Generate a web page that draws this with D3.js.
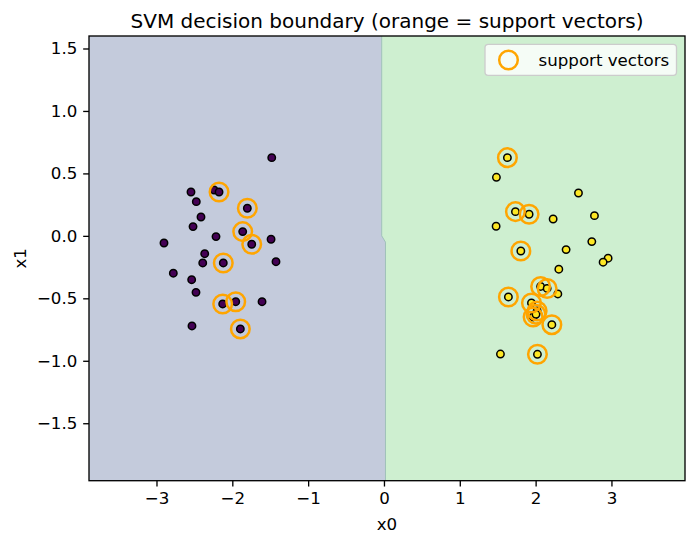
<!DOCTYPE html>
<html>
<head>
<meta charset="utf-8">
<script src="https://cdn.jsdelivr.net/npm/d3@7"></script>
<style>
  html, body { margin: 0; padding: 0; background: #fff; }
  svg { display: block; font-family: "DejaVu Sans", sans-serif; }
</style>
</head>
<body>
<div id="chart"></div>
<script>
// class 0 points (purple)
const class0X = [-1.48, -2.545, -2.241, -2.175, -2.475, -1.802, -2.413, -2.518, -1.863, -2.215,
                 -2.901, -1.489, -1.744, -2.364, -2.390, -2.119, -1.424, -2.778, -2.536, -2.479,
                 -2.127, -1.955, -1.608, -2.532, -1.894];
const class0Y = [0.626, 0.351, 0.367, 0.351, 0.274, 0.221, 0.151, 0.074, 0.034, -0.006,
                 -0.057, -0.027, -0.067, -0.143, -0.217, -0.217, -0.207, -0.299, -0.351, -0.452,
                 -0.545, -0.527, -0.527, -0.721, -0.745];
const class0SV = [0, 0, 0, 1, 0, 1, 0, 0, 1, 0,
                  0, 0, 1, 0, 0, 1, 0, 0, 0, 0,
                  1, 1, 0, 0, 1];

// class 1 points (yellow)
const class1X = [1.628, 1.483, 2.565, 1.734, 1.914, 2.231, 2.776, 1.479, 2.741, 1.805,
                 2.402, 2.956, 2.890, 2.306, 2.066, 2.152, 2.293, 1.641, 1.945, 2.020,
                 1.967, 2.005, 2.214, 1.536, 2.024];
const class1Y = [0.626, 0.469, 0.343, 0.194, 0.173, 0.135, 0.162, 0.077, -0.046, -0.121,
                 -0.110, -0.179, -0.211, -0.267, -0.405, -0.421, -0.465, -0.489, -0.537, -0.601,
                 -0.649, -0.628, -0.711, -0.946, -0.948];
const class1SV = [1, 0, 0, 1, 1, 0, 0, 0, 0, 1,
                  0, 0, 0, 0, 1, 1, 0, 1, 1, 1,
                  1, 1, 1, 0, 1];

// decision boundary polyline (x0, x1), top to bottom
const boundaryX = [-0.03, -0.03, 0.02, 0.02];
const boundaryY = [1.60, 0.0, -0.05, -1.96];

const xTicks = [-3, -2, -1, 0, 1, 2, 3];
const yTicks = [-1.5, -1.0, -0.5, 0.0, 0.5, 1.0, 1.5];
const xLim = [-3.89, 3.97];
const yLim = [-1.96, 1.60];

const W = 695, H = 546;
const margin = { left: 89, top: 36, right: 10, bottom: 65.3 };
const iw = W - margin.left - margin.right;
const ih = H - margin.top - margin.bottom;

const svg = d3.select("#chart").append("svg")
  .attr("width", W).attr("height", H);

const x = d3.scaleLinear().domain(xLim).range([0, iw]);
const y = d3.scaleLinear().domain(yLim).range([ih, 0]);

const g = svg.append("g")
  .attr("transform", "translate(" + margin.left + "," + margin.top + ")");

const fmtMinus = s => s.replace("-", "\u2212");

// regions
const bnd = boundaryX.map((v, i) => [x(v), y(boundaryY[i])]);
const leftPoly = [[x(xLim[0]), y(yLim[1])]].concat(bnd, [[x(xLim[0]), y(yLim[0])]]);
const rightPoly = [[x(xLim[1]), y(yLim[1])]].concat(bnd, [[x(xLim[1]), y(yLim[0])]]);
const line = d3.line();

g.append("path").attr("d", line(leftPoly) + "Z")
  .attr("fill", d3.interpolateViridis(0.25)).attr("fill-opacity", 0.3);
g.append("path").attr("d", line(rightPoly) + "Z")
  .attr("fill", d3.interpolateViridis(0.75)).attr("fill-opacity", 0.3);
g.append("path").attr("d", line(bnd))
  .attr("fill", "none").attr("stroke", "rgb(160,192,186)").attr("stroke-width", 1);

// points
const pts0 = class0X.map((v, i) => ({ x: v, y: class0Y[i], sv: class0SV[i], c: 0 }));
const pts1 = class1X.map((v, i) => ({ x: v, y: class1Y[i], sv: class1SV[i], c: 1 }));
const pts = pts0.concat(pts1);

g.selectAll(".dot").data(pts).enter().append("circle")
  .attr("class", "dot")
  .attr("cx", d => x(d.x)).attr("cy", d => y(d.y))
  .attr("r", 3.7)
  .attr("fill", d => d.c === 0 ? "#440154" : "#fde725")
  .attr("stroke", "#000").attr("stroke-width", 1.5);

g.selectAll(".sv").data(pts.filter(d => d.sv)).enter().append("circle")
  .attr("class", "sv")
  .attr("cx", d => x(d.x)).attr("cy", d => y(d.y))
  .attr("r", 9.3)
  .attr("fill", "none")
  .attr("stroke", "orange").attr("stroke-width", 2.5);

// spines
g.append("rect").attr("x", 0).attr("y", 0).attr("width", iw).attr("height", ih)
  .attr("fill", "none").attr("stroke", "#000").attr("stroke-width", 1.33);

// axes
const xAxis = d3.axisBottom(x).tickValues(xTicks).tickSize(5.83).tickPadding(5.2)
  .tickFormat(d => fmtMinus(d3.format("d")(d)));
const yAxis = d3.axisLeft(y).tickValues(yTicks).tickSize(5.83).tickPadding(5.83)
  .tickFormat(d => fmtMinus(d3.format(".1f")(d)));

const gx = g.append("g").attr("transform", "translate(0," + ih + ")").call(xAxis);
const gy = g.append("g").call(yAxis);
[gx, gy].forEach(a => {
  a.select(".domain").remove();
  a.selectAll(".tick line").attr("stroke", "#000").attr("stroke-width", 1.33);
  a.selectAll(".tick text").attr("fill", "#000")
    .style("font-size", "16.67px").style("font-family", "DejaVu Sans, sans-serif");
});

// labels
svg.append("text").attr("x", margin.left + iw / 2).attr("y", 530)
  .attr("text-anchor", "middle").style("font-size", "16.67px").text("x0");
svg.append("text").attr("transform", "translate(26," + (margin.top + ih / 2) + ") rotate(-90)")
  .attr("text-anchor", "middle").style("font-size", "16.67px").text("x1");
svg.append("text").attr("x", margin.left + iw / 2).attr("y", 27.5)
  .attr("text-anchor", "middle").style("font-size", "20px")
  .text("SVM decision boundary (orange = support vectors)");

// legend
const lg = svg.append("g");
lg.append("rect").attr("x", 485).attr("y", 44.3).attr("width", 191.5).attr("height", 31)
  .attr("rx", 3.3).attr("fill", "#fff").attr("fill-opacity", 0.8)
  .attr("stroke", "#cccccc").attr("stroke-width", 1.33);
lg.append("circle").attr("cx", 508.5).attr("cy", 60).attr("r", 9.3)
  .attr("fill", "none").attr("stroke", "orange").attr("stroke-width", 2.5);
lg.append("text").attr("x", 538.5).attr("y", 66)
  .style("font-size", "16.67px").text("support vectors");
</script>
</body>
</html>
